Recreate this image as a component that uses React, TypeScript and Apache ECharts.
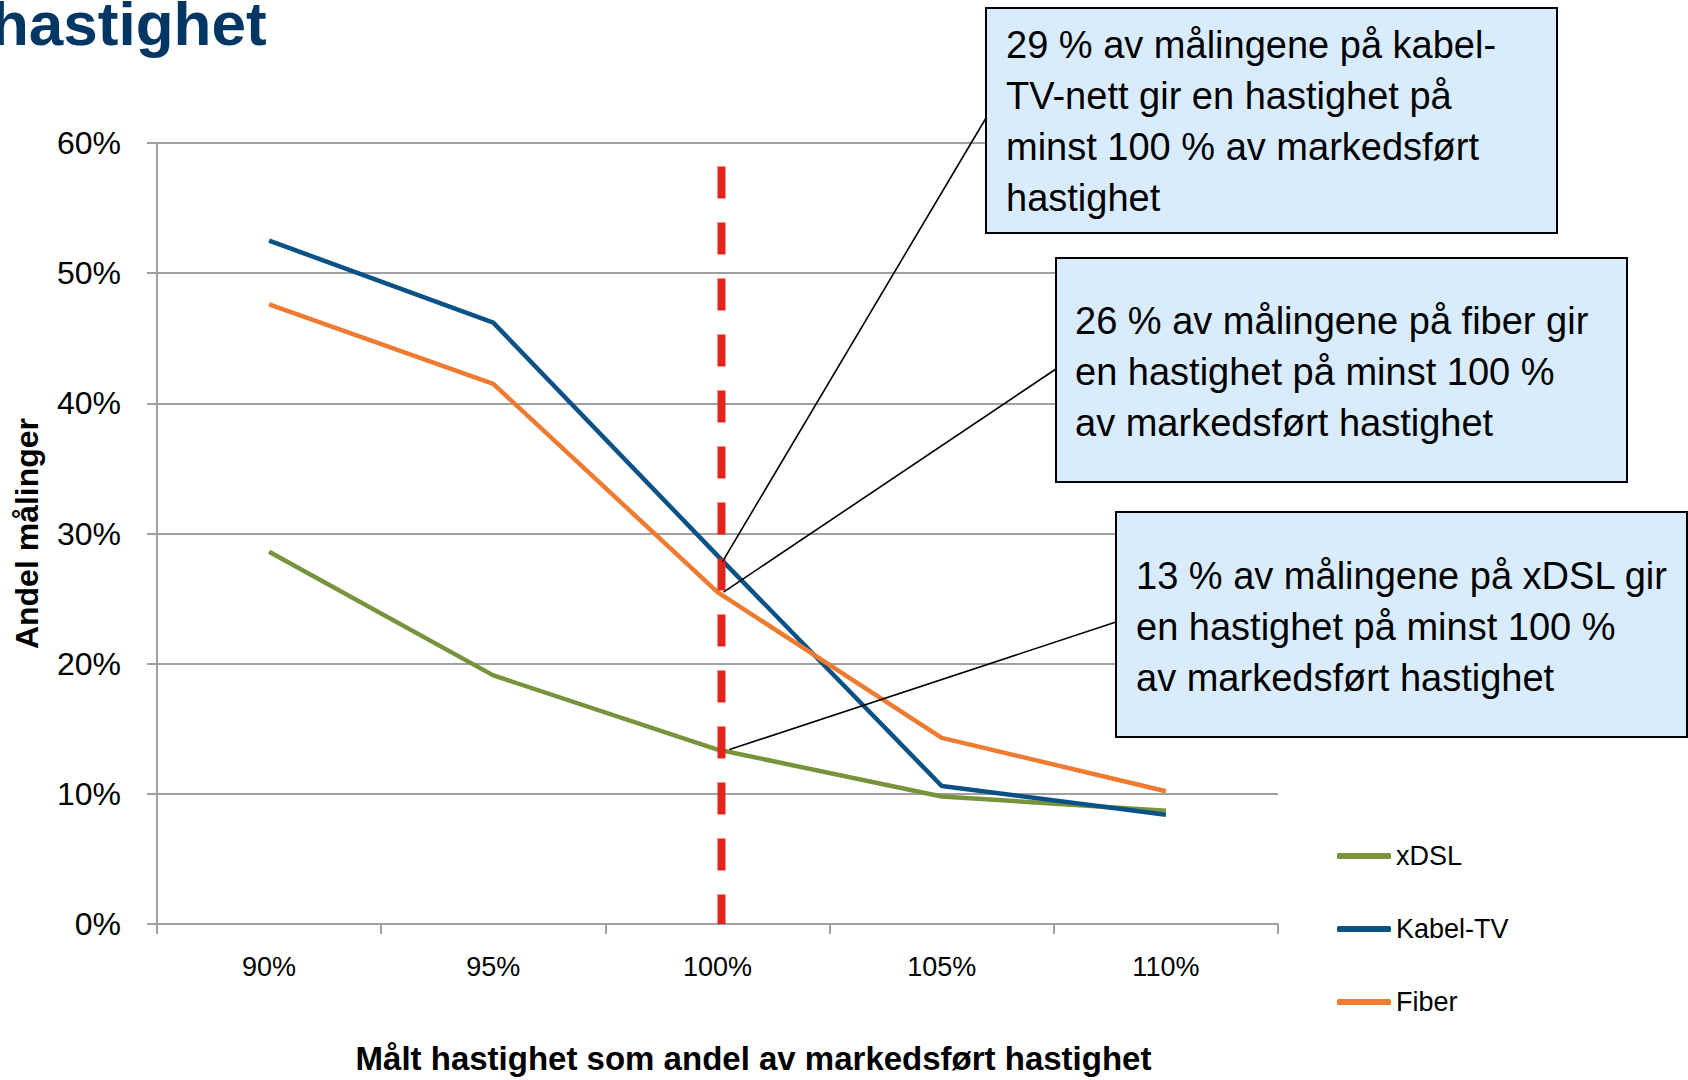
import React, { useEffect, useRef } from "react";
import * as echarts from "echarts";

// ---- data ----
const categories = ["90%", "95%", "100%", "105%", "110%"];
const seriesNames = ["xDSL", "Kabel-TV", "Fiber"];
const xdslValues = [28.6, 19.1, 13.4, 9.8, 8.7];
const kabelValues = [52.5, 46.2, 28.3, 10.6, 8.4];
const fiberValues = [47.6, 41.5, 25.5, 14.3, 10.2];
const seriesColors = ["#77933c", "#0a5286", "#ee7b2f"];

const thresholdCategory = "100%";
const thresholdTop = 58.2;

const titleText = "hastighet";
const yAxisTitle = "Andel målinger";
const xAxisTitle = "Målt hastighet som andel av markedsført hastighet";

const kabelNote = [
  "29 % av målingene på kabel-",
  "TV-nett gir en hastighet på",
  "minst 100 % av markedsført",
  "hastighet",
];
const fiberNote = [
  "26 % av målingene på fiber gir",
  "en hastighet på minst 100 %",
  "av markedsført hastighet",
];
const xdslNote = [
  "13 % av målingene på xDSL gir",
  "en hastighet på minst 100 %",
  "av markedsført hastighet",
];

const FONT = "'Liberation Sans', Arial, sans-serif";

export default function App() {
  const ref = useRef<HTMLDivElement>(null);

  useEffect(() => {
    if (!ref.current) return;
    const chart = echarts.init(ref.current, undefined, { renderer: "svg" });
    const values = [xdslValues, kabelValues, fiberValues];

    chart.setOption({
      animation: false,
      backgroundColor: "#ffffff",
      textStyle: { fontFamily: FONT },
      grid: { left: 157, right: 410, top: 143, bottom: 151 },
      legend: {
        orient: "vertical",
        left: 1332,
        top: 836,
        icon: "roundRect",
        itemWidth: 54,
        itemHeight: 6,
        itemGap: 43,
        data: seriesNames,
        textStyle: { fontSize: 27, color: "#000", fontFamily: FONT, lineHeight: 30, padding: [0, 0, 0, 0] },
      },
      xAxis: {
        type: "category",
        data: categories,
        boundaryGap: true,
        axisLine: { lineStyle: { color: "#a0a0a0", width: 2 } },
        axisTick: { show: true, length: 10, lineStyle: { color: "#a0a0a0", width: 2 } },
        axisLabel: { fontSize: 27, color: "#000", margin: 29, fontFamily: FONT },
        name: xAxisTitle,
        nameLocation: "middle",
        nameGap: 118,
        nameTextStyle: {
          fontSize: 33,
          fontWeight: "bold",
          color: "#000",
          fontFamily: FONT,
          padding: [0, 0, 0, 72],
        },
      },
      yAxis: {
        type: "value",
        min: 0,
        max: 60,
        interval: 10,
        axisLine: { show: true, lineStyle: { color: "#a0a0a0", width: 2 } },
        axisTick: { show: true, length: 10, lineStyle: { color: "#a0a0a0", width: 2 } },
        splitLine: { lineStyle: { color: "#a0a0a0", width: 2 } },
        axisLabel: { fontSize: 32, color: "#000", margin: 36, formatter: "{value}%", fontFamily: FONT },
        name: yAxisTitle,
        nameLocation: "middle",
        nameGap: 114,
        nameTextStyle: { fontSize: 32, fontWeight: "bold", color: "#000", fontFamily: FONT },
      },
      series: seriesNames.map((name, i) => ({
        name,
        type: "line",
        data: values[i],
        showSymbol: false,
        symbol: "none",
        z: 3 + i,
        lineStyle: { color: seriesColors[i], width: 4.5 },
        itemStyle: { color: seriesColors[i] },
      })),
    });

    const idx = categories.indexOf(thresholdCategory);
    const pk = chart.convertToPixel({ seriesIndex: 1 }, [idx, kabelValues[idx]]) as number[];
    const pf = chart.convertToPixel({ seriesIndex: 2 }, [idx, fiberValues[idx]]) as number[];
    const px = chart.convertToPixel({ seriesIndex: 0 }, [idx, xdslValues[idx]]) as number[];
    const tTop = chart.convertToPixel({ seriesIndex: 0 }, [idx, thresholdTop]) as number[];
    const tBot = chart.convertToPixel({ seriesIndex: 0 }, [idx, 0]) as number[];

    const boxStyle = { fill: "#d9ecfd", stroke: "#000", lineWidth: 2 };
    const noteText = (x: number, y: number, lines: string[]) => ({
      type: "text",
      x,
      y,
      z: 102,
      style: {
        text: lines.join("\n"),
        fontSize: 38,
        lineHeight: 51,
        fontFamily: FONT,
        fill: "#000",
        align: "left",
        verticalAlign: "top",
      },
    });
    const connector = (x1: number, y1: number, x2: number, y2: number) => ({
      type: "line",
      z: 101,
      shape: { x1, y1, x2, y2 },
      style: { stroke: "#000", lineWidth: 1.6 },
    });

    chart.setOption({
      graphic: [
        {
          type: "text",
          x: -9,
          y: 23,
          z: 100,
          style: {
            text: titleText,
            fontSize: 62,
            fontWeight: "bold",
            fontFamily: FONT,
            fill: "#023763",
            align: "left",
            verticalAlign: "middle",
          },
        },
        {
          type: "line",
          z: 50,
          shape: { x1: tTop[0] + 4, y1: tTop[1], x2: tBot[0] + 4, y2: tBot[1] },
          style: { stroke: "#e3241b", lineWidth: 8, lineDash: [32, 24] },
        },
        connector(pk[0] + 5, pk[1] + 6, 986, 118),
        connector(pf[0] + 6, pf[1], 1056, 369),
        connector(px[0] + 12, px[1], 1116, 622),
        { type: "rect", z: 100, shape: { x: 986, y: 8, width: 571, height: 225 }, style: boxStyle },
        { type: "rect", z: 100, shape: { x: 1056, y: 258, width: 571, height: 224 }, style: boxStyle },
        { type: "rect", z: 100, shape: { x: 1116, y: 512, width: 571, height: 225 }, style: boxStyle },
        noteText(1006, 19.5, kabelNote),
        noteText(1075, 295.5, fiberNote),
        noteText(1136, 550.5, xdslNote),
      ],
    });

    return () => chart.dispose();
  }, []);

  return (
    <div
      ref={ref}
      style={{ position: "fixed", left: 0, top: 0, width: 1688, height: 1080, background: "#fff" }}
    />
  );
}
